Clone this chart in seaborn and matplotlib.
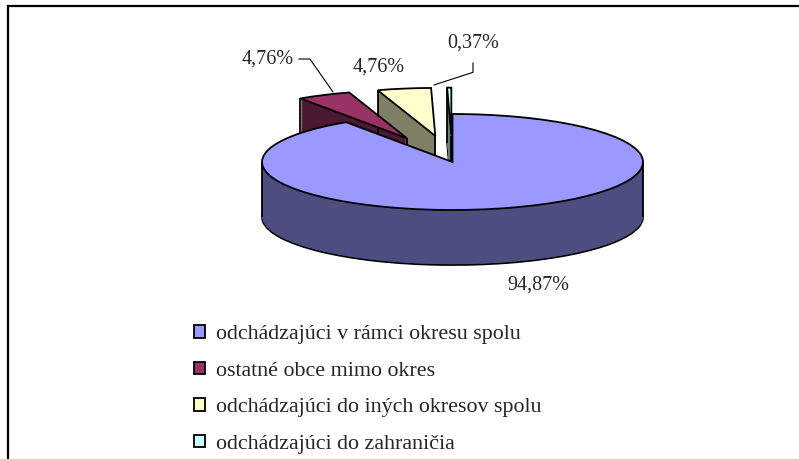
import math
import numpy as np
import matplotlib
matplotlib.use('Agg')
import matplotlib.pyplot as plt
import seaborn as sns
from matplotlib.patches import Rectangle

# data
names = ['odchádzajúci v rámci okresu spolu',
         'ostatné obce mimo okres',
         'odchádzajúci do iných okresov spolu',
         'odchádzajúci do zahraničia']
shares = [94.87, 4.76, 4.76, 0.37]
top_colors = ['#9999FF', '#993366', '#FFFFCC', '#CCFFFF']
side_colors = ['#4D4D7F', '#4C1933', '#7F7F66', '#667F7F']
explode = [0, 0.55, 0.55, 0.55]

sns.set_style('white')
plt.rcParams['font.family'] = ['Liberation Serif', 'DejaVu Serif']

W, H = 799, 459
fig = plt.figure(figsize=(W / 100, H / 100), dpi=100)
ax = fig.add_axes([0, 0, 1, 1])

# pie centre and radii in pixels (flattened 3d look)
CX, CY, RX, RY = 452.5, 162, 190.5, 48
DEPTH = 55 / RY
LW = 1.3


def zbase(i):
    # exploded slices sit behind the big one
    return 2 if explode[i] == 0 else 1


# side walls: stack of darker pies shifted down
levels = np.linspace(DEPTH, 0, 70, endpoint=False)
for k, d in enumerate(levels):
    wedges, _ = ax.pie(shares, explode=explode, startangle=90, counterclock=False,
                       center=(0, -d), colors=side_colors,
                       wedgeprops=dict(linewidth=LW if k == 0 else 0, edgecolor='black'))
    for i, w in enumerate(wedges):
        w.set_zorder(zbase(i) + (0 if k == 0 else 0.1 + 0.001 * k))

# top faces
tops, _ = ax.pie(shares, explode=explode, startangle=90, counterclock=False,
                 colors=top_colors, wedgeprops=dict(linewidth=LW, edgecolor='black'))
for i, w in enumerate(tops):
    w.set_zorder(zbase(i) + 0.9)


# vertical edges of the walls, only where they are in front
def inside(w, x, y):
    cx, cy = w.center
    rr = math.hypot(x - cx, y - cy)
    ang = math.degrees(math.atan2(y - cy, x - cx))
    return rr < w.r and (ang - w.theta1) % 360 <= (w.theta2 - w.theta1)


for i, w in enumerate(tops):
    cx, cy = w.center
    pts = [(cx, cy)]
    for t in (w.theta1, w.theta2):
        pts.append((cx + w.r * math.cos(math.radians(t)), cy + w.r * math.sin(math.radians(t))))
    for t in (0, 180):
        if (t - w.theta1) % 360 <= (w.theta2 - w.theta1):
            pts.append((cx + w.r * math.cos(math.radians(t)), cy))
    for x, y in pts:
        if not inside(w, x, y - 0.02):
            ax.vlines(x, y - DEPTH, y, colors='black', linewidth=LW, zorder=zbase(i) + 0.8)

ax.set_xlim(-CX / RX, (W - CX) / RX)
ax.set_ylim((CY - H) / RY, CY / RY)
ax.set_aspect('auto')
ax.axis('off')


def fp(x, y):
    return (x, H - y)


labs = [f'{v:.2f}'.replace('.', ',') + '%' for v in shares]
LAB_FS = 14.5

ax.annotate(labs[0], xy=fp(538, 285), xycoords='figure pixels',
            ha='center', va='center', fontsize=LAB_FS)
ax.annotate(labs[1], xy=fp(333, 92), xycoords='figure pixels',
            xytext=fp(294, 59), textcoords='figure pixels',
            ha='right', va='center', fontsize=LAB_FS,
            arrowprops=dict(arrowstyle='-', color='black', lw=0.8, shrinkA=1, shrinkB=0,
                            relpos=(1, 0.5),
                            connectionstyle='angle,angleA=0,angleB=125,rad=0'))
ax.annotate(labs[2], xy=fp(379, 67), xycoords='figure pixels',
            ha='center', va='center', fontsize=LAB_FS)
ax.annotate(labs[3], xy=fp(434, 85), xycoords='figure pixels',
            xytext=fp(473, 43), textcoords='figure pixels',
            ha='center', va='center', fontsize=LAB_FS,
            arrowprops=dict(arrowstyle='-', color='black', lw=0.8, shrinkA=5, shrinkB=0,
                            relpos=(0.5, 0),
                            connectionstyle='angle,angleA=90,angleB=18,rad=0'))

fig.legend(tops, names, loc='upper left', bbox_to_anchor=(194 / W, 1 - 325 / H),
           frameon=False, fontsize=15.8, handlelength=0.5, handleheight=0.5,
           handletextpad=0.5, labelspacing=0.8, borderpad=0, borderaxespad=0)

# chart border, runs off the right and bottom edge
fig.add_artist(Rectangle((7.5 / W, -0.1), 1.2, (H - 6.5) / H + 0.1, transform=fig.transFigure,
                         fill=False, edgecolor='black', linewidth=1.6, clip_on=False))

fig.savefig('out.png', dpi=100)
